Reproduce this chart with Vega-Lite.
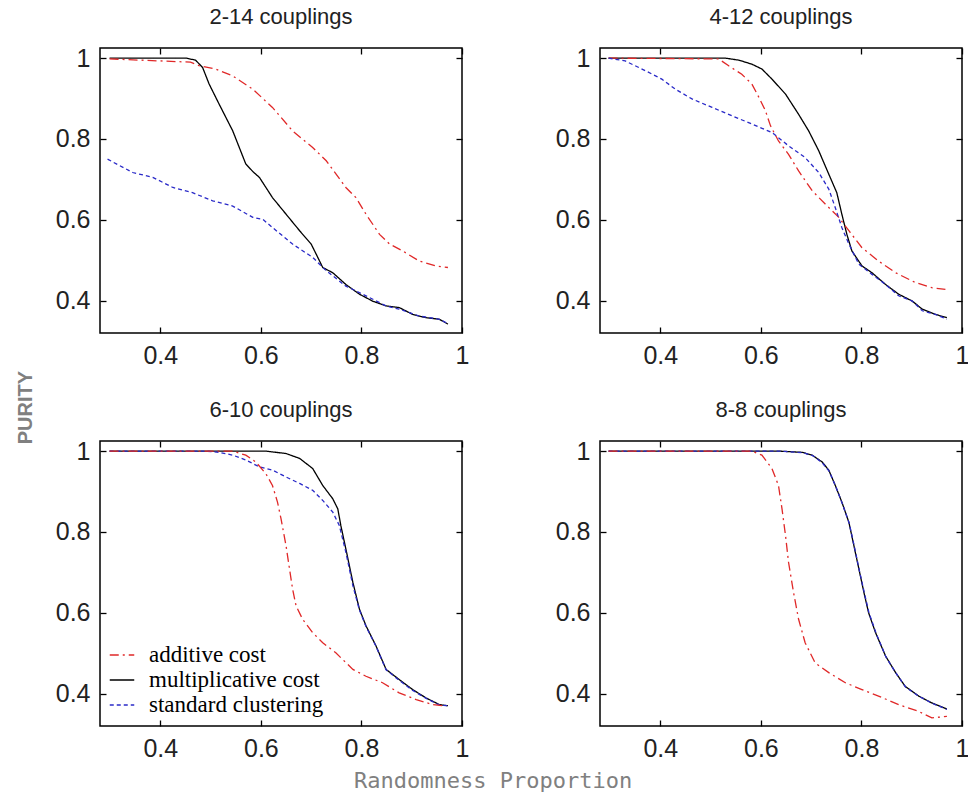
{
  "$schema": "https://vega.github.io/schema/vega-lite/v6.json",
  "background": "white",
  "padding": {"left": 16, "top": 5, "right": 4, "bottom": 2},
  "title": {"text": "Randomness Proportion", "orient": "bottom", "anchor": "middle", "font": "DejaVu Sans Mono", "fontSize": 22, "fontWeight": "normal", "color": "#808080", "offset": 9},
  "data": {"values": [
    {"panel":"2-14","series":"multiplicative cost","x":0.299,"y":1},
    {"panel":"2-14","series":"multiplicative cost","x":0.451,"y":1},
    {"panel":"2-14","series":"multiplicative cost","x":0.47,"y":0.995},
    {"panel":"2-14","series":"multiplicative cost","x":0.484,"y":0.977},
    {"panel":"2-14","series":"multiplicative cost","x":0.497,"y":0.936},
    {"panel":"2-14","series":"multiplicative cost","x":0.517,"y":0.886},
    {"panel":"2-14","series":"multiplicative cost","x":0.544,"y":0.82},
    {"panel":"2-14","series":"multiplicative cost","x":0.57,"y":0.738},
    {"panel":"2-14","series":"multiplicative cost","x":0.585,"y":0.718},
    {"panel":"2-14","series":"multiplicative cost","x":0.597,"y":0.705},
    {"panel":"2-14","series":"multiplicative cost","x":0.623,"y":0.655},
    {"panel":"2-14","series":"multiplicative cost","x":0.65,"y":0.614},
    {"panel":"2-14","series":"multiplicative cost","x":0.677,"y":0.573},
    {"panel":"2-14","series":"multiplicative cost","x":0.7,"y":0.54},
    {"panel":"2-14","series":"multiplicative cost","x":0.71,"y":0.515},
    {"panel":"2-14","series":"multiplicative cost","x":0.723,"y":0.482},
    {"panel":"2-14","series":"multiplicative cost","x":0.743,"y":0.469},
    {"panel":"2-14","series":"multiplicative cost","x":0.769,"y":0.44},
    {"panel":"2-14","series":"multiplicative cost","x":0.796,"y":0.416},
    {"panel":"2-14","series":"multiplicative cost","x":0.822,"y":0.399},
    {"panel":"2-14","series":"multiplicative cost","x":0.849,"y":0.387},
    {"panel":"2-14","series":"multiplicative cost","x":0.875,"y":0.383},
    {"panel":"2-14","series":"multiplicative cost","x":0.902,"y":0.366},
    {"panel":"2-14","series":"multiplicative cost","x":0.928,"y":0.358},
    {"panel":"2-14","series":"multiplicative cost","x":0.955,"y":0.354},
    {"panel":"2-14","series":"multiplicative cost","x":0.972,"y":0.342},
    {"panel":"2-14","series":"additive cost","x":0.299,"y":0.998},
    {"panel":"2-14","series":"additive cost","x":0.4,"y":0.993},
    {"panel":"2-14","series":"additive cost","x":0.46,"y":0.99},
    {"panel":"2-14","series":"additive cost","x":0.478,"y":0.981},
    {"panel":"2-14","series":"additive cost","x":0.51,"y":0.973},
    {"panel":"2-14","series":"additive cost","x":0.544,"y":0.956},
    {"panel":"2-14","series":"additive cost","x":0.584,"y":0.923},
    {"panel":"2-14","series":"additive cost","x":0.623,"y":0.878},
    {"panel":"2-14","series":"additive cost","x":0.663,"y":0.82},
    {"panel":"2-14","series":"additive cost","x":0.703,"y":0.779},
    {"panel":"2-14","series":"additive cost","x":0.73,"y":0.746},
    {"panel":"2-14","series":"additive cost","x":0.769,"y":0.68},
    {"panel":"2-14","series":"additive cost","x":0.789,"y":0.655},
    {"panel":"2-14","series":"additive cost","x":0.809,"y":0.614},
    {"panel":"2-14","series":"additive cost","x":0.836,"y":0.564},
    {"panel":"2-14","series":"additive cost","x":0.856,"y":0.54},
    {"panel":"2-14","series":"additive cost","x":0.882,"y":0.523},
    {"panel":"2-14","series":"additive cost","x":0.915,"y":0.498},
    {"panel":"2-14","series":"additive cost","x":0.948,"y":0.486},
    {"panel":"2-14","series":"additive cost","x":0.972,"y":0.482},
    {"panel":"2-14","series":"standard clustering","x":0.295,"y":0.75},
    {"panel":"2-14","series":"standard clustering","x":0.345,"y":0.717},
    {"panel":"2-14","series":"standard clustering","x":0.385,"y":0.705},
    {"panel":"2-14","series":"standard clustering","x":0.425,"y":0.68},
    {"panel":"2-14","series":"standard clustering","x":0.464,"y":0.667},
    {"panel":"2-14","series":"standard clustering","x":0.504,"y":0.647},
    {"panel":"2-14","series":"standard clustering","x":0.544,"y":0.634},
    {"panel":"2-14","series":"standard clustering","x":0.584,"y":0.606},
    {"panel":"2-14","series":"standard clustering","x":0.604,"y":0.601},
    {"panel":"2-14","series":"standard clustering","x":0.623,"y":0.581},
    {"panel":"2-14","series":"standard clustering","x":0.663,"y":0.54},
    {"panel":"2-14","series":"standard clustering","x":0.703,"y":0.507},
    {"panel":"2-14","series":"standard clustering","x":0.73,"y":0.474},
    {"panel":"2-14","series":"standard clustering","x":0.769,"y":0.436},
    {"panel":"2-14","series":"standard clustering","x":0.809,"y":0.412},
    {"panel":"2-14","series":"standard clustering","x":0.849,"y":0.387},
    {"panel":"2-14","series":"standard clustering","x":0.875,"y":0.379},
    {"panel":"2-14","series":"standard clustering","x":0.915,"y":0.362},
    {"panel":"2-14","series":"standard clustering","x":0.955,"y":0.354},
    {"panel":"2-14","series":"standard clustering","x":0.972,"y":0.343},

    {"panel":"4-12","series":"multiplicative cost","x":0.297,"y":1},
    {"panel":"4-12","series":"multiplicative cost","x":0.529,"y":1},
    {"panel":"4-12","series":"multiplicative cost","x":0.556,"y":0.995},
    {"panel":"4-12","series":"multiplicative cost","x":0.582,"y":0.985},
    {"panel":"4-12","series":"multiplicative cost","x":0.602,"y":0.973},
    {"panel":"4-12","series":"multiplicative cost","x":0.622,"y":0.948},
    {"panel":"4-12","series":"multiplicative cost","x":0.649,"y":0.911},
    {"panel":"4-12","series":"multiplicative cost","x":0.675,"y":0.861},
    {"panel":"4-12","series":"multiplicative cost","x":0.695,"y":0.82},
    {"panel":"4-12","series":"multiplicative cost","x":0.715,"y":0.771},
    {"panel":"4-12","series":"multiplicative cost","x":0.735,"y":0.713},
    {"panel":"4-12","series":"multiplicative cost","x":0.751,"y":0.667},
    {"panel":"4-12","series":"multiplicative cost","x":0.761,"y":0.614},
    {"panel":"4-12","series":"multiplicative cost","x":0.771,"y":0.564},
    {"panel":"4-12","series":"multiplicative cost","x":0.781,"y":0.523},
    {"panel":"4-12","series":"multiplicative cost","x":0.801,"y":0.486},
    {"panel":"4-12","series":"multiplicative cost","x":0.821,"y":0.469},
    {"panel":"4-12","series":"multiplicative cost","x":0.848,"y":0.44},
    {"panel":"4-12","series":"multiplicative cost","x":0.874,"y":0.416},
    {"panel":"4-12","series":"multiplicative cost","x":0.901,"y":0.399},
    {"panel":"4-12","series":"multiplicative cost","x":0.921,"y":0.379},
    {"panel":"4-12","series":"multiplicative cost","x":0.947,"y":0.366},
    {"panel":"4-12","series":"multiplicative cost","x":0.97,"y":0.358},
    {"panel":"4-12","series":"additive cost","x":0.297,"y":1},
    {"panel":"4-12","series":"additive cost","x":0.516,"y":0.998},
    {"panel":"4-12","series":"additive cost","x":0.536,"y":0.981},
    {"panel":"4-12","series":"additive cost","x":0.562,"y":0.96},
    {"panel":"4-12","series":"additive cost","x":0.582,"y":0.936},
    {"panel":"4-12","series":"additive cost","x":0.596,"y":0.903},
    {"panel":"4-12","series":"additive cost","x":0.609,"y":0.87},
    {"panel":"4-12","series":"additive cost","x":0.619,"y":0.833},
    {"panel":"4-12","series":"additive cost","x":0.635,"y":0.795},
    {"panel":"4-12","series":"additive cost","x":0.655,"y":0.762},
    {"panel":"4-12","series":"additive cost","x":0.675,"y":0.721},
    {"panel":"4-12","series":"additive cost","x":0.702,"y":0.672},
    {"panel":"4-12","series":"additive cost","x":0.728,"y":0.639},
    {"panel":"4-12","series":"additive cost","x":0.755,"y":0.606},
    {"panel":"4-12","series":"additive cost","x":0.775,"y":0.573},
    {"panel":"4-12","series":"additive cost","x":0.801,"y":0.531},
    {"panel":"4-12","series":"additive cost","x":0.834,"y":0.498},
    {"panel":"4-12","series":"additive cost","x":0.868,"y":0.469},
    {"panel":"4-12","series":"additive cost","x":0.907,"y":0.445},
    {"panel":"4-12","series":"additive cost","x":0.94,"y":0.432},
    {"panel":"4-12","series":"additive cost","x":0.967,"y":0.428},
    {"panel":"4-12","series":"standard clustering","x":0.297,"y":1},
    {"panel":"4-12","series":"standard clustering","x":0.33,"y":0.993},
    {"panel":"4-12","series":"standard clustering","x":0.37,"y":0.969},
    {"panel":"4-12","series":"standard clustering","x":0.403,"y":0.948},
    {"panel":"4-12","series":"standard clustering","x":0.43,"y":0.923},
    {"panel":"4-12","series":"standard clustering","x":0.463,"y":0.899},
    {"panel":"4-12","series":"standard clustering","x":0.503,"y":0.878},
    {"panel":"4-12","series":"standard clustering","x":0.543,"y":0.857},
    {"panel":"4-12","series":"standard clustering","x":0.582,"y":0.837},
    {"panel":"4-12","series":"standard clustering","x":0.622,"y":0.816},
    {"panel":"4-12","series":"standard clustering","x":0.655,"y":0.783},
    {"panel":"4-12","series":"standard clustering","x":0.688,"y":0.754},
    {"panel":"4-12","series":"standard clustering","x":0.715,"y":0.717},
    {"panel":"4-12","series":"standard clustering","x":0.735,"y":0.676},
    {"panel":"4-12","series":"standard clustering","x":0.748,"y":0.63},
    {"panel":"4-12","series":"standard clustering","x":0.761,"y":0.581},
    {"panel":"4-12","series":"standard clustering","x":0.775,"y":0.54},
    {"panel":"4-12","series":"standard clustering","x":0.795,"y":0.49},
    {"panel":"4-12","series":"standard clustering","x":0.821,"y":0.465},
    {"panel":"4-12","series":"standard clustering","x":0.848,"y":0.44},
    {"panel":"4-12","series":"standard clustering","x":0.874,"y":0.412},
    {"panel":"4-12","series":"standard clustering","x":0.901,"y":0.399},
    {"panel":"4-12","series":"standard clustering","x":0.921,"y":0.375},
    {"panel":"4-12","series":"standard clustering","x":0.947,"y":0.366},
    {"panel":"4-12","series":"standard clustering","x":0.97,"y":0.354},

    {"panel":"6-10","series":"multiplicative cost","x":0.299,"y":1},
    {"panel":"6-10","series":"multiplicative cost","x":0.61,"y":1},
    {"panel":"6-10","series":"multiplicative cost","x":0.65,"y":0.994},
    {"panel":"6-10","series":"multiplicative cost","x":0.677,"y":0.982},
    {"panel":"6-10","series":"multiplicative cost","x":0.703,"y":0.957},
    {"panel":"6-10","series":"multiplicative cost","x":0.723,"y":0.915},
    {"panel":"6-10","series":"multiplicative cost","x":0.743,"y":0.882},
    {"panel":"6-10","series":"multiplicative cost","x":0.753,"y":0.857},
    {"panel":"6-10","series":"multiplicative cost","x":0.759,"y":0.816},
    {"panel":"6-10","series":"multiplicative cost","x":0.769,"y":0.758},
    {"panel":"6-10","series":"multiplicative cost","x":0.783,"y":0.675},
    {"panel":"6-10","series":"multiplicative cost","x":0.796,"y":0.609},
    {"panel":"6-10","series":"multiplicative cost","x":0.809,"y":0.568},
    {"panel":"6-10","series":"multiplicative cost","x":0.829,"y":0.518},
    {"panel":"6-10","series":"multiplicative cost","x":0.849,"y":0.46},
    {"panel":"6-10","series":"multiplicative cost","x":0.875,"y":0.435},
    {"panel":"6-10","series":"multiplicative cost","x":0.902,"y":0.41},
    {"panel":"6-10","series":"multiplicative cost","x":0.929,"y":0.389},
    {"panel":"6-10","series":"multiplicative cost","x":0.955,"y":0.373},
    {"panel":"6-10","series":"multiplicative cost","x":0.972,"y":0.37},
    {"panel":"6-10","series":"standard clustering","x":0.299,"y":1},
    {"panel":"6-10","series":"standard clustering","x":0.491,"y":1},
    {"panel":"6-10","series":"standard clustering","x":0.517,"y":0.997},
    {"panel":"6-10","series":"standard clustering","x":0.544,"y":0.99},
    {"panel":"6-10","series":"standard clustering","x":0.57,"y":0.978},
    {"panel":"6-10","series":"standard clustering","x":0.597,"y":0.961},
    {"panel":"6-10","series":"standard clustering","x":0.623,"y":0.953},
    {"panel":"6-10","series":"standard clustering","x":0.65,"y":0.936},
    {"panel":"6-10","series":"standard clustering","x":0.677,"y":0.92},
    {"panel":"6-10","series":"standard clustering","x":0.703,"y":0.903},
    {"panel":"6-10","series":"standard clustering","x":0.723,"y":0.878},
    {"panel":"6-10","series":"standard clustering","x":0.743,"y":0.849},
    {"panel":"6-10","series":"standard clustering","x":0.756,"y":0.816},
    {"panel":"6-10","series":"standard clustering","x":0.769,"y":0.75},
    {"panel":"6-10","series":"standard clustering","x":0.783,"y":0.667},
    {"panel":"6-10","series":"standard clustering","x":0.796,"y":0.607},
    {"panel":"6-10","series":"standard clustering","x":0.809,"y":0.566},
    {"panel":"6-10","series":"standard clustering","x":0.829,"y":0.517},
    {"panel":"6-10","series":"standard clustering","x":0.849,"y":0.459},
    {"panel":"6-10","series":"standard clustering","x":0.875,"y":0.433},
    {"panel":"6-10","series":"standard clustering","x":0.902,"y":0.408},
    {"panel":"6-10","series":"standard clustering","x":0.929,"y":0.388},
    {"panel":"6-10","series":"standard clustering","x":0.955,"y":0.372},
    {"panel":"6-10","series":"standard clustering","x":0.972,"y":0.37},
    {"panel":"6-10","series":"additive cost","x":0.299,"y":1},
    {"panel":"6-10","series":"additive cost","x":0.544,"y":1},
    {"panel":"6-10","series":"additive cost","x":0.57,"y":0.99},
    {"panel":"6-10","series":"additive cost","x":0.59,"y":0.973},
    {"panel":"6-10","series":"additive cost","x":0.61,"y":0.944},
    {"panel":"6-10","series":"additive cost","x":0.623,"y":0.915},
    {"panel":"6-10","series":"additive cost","x":0.633,"y":0.874},
    {"panel":"6-10","series":"additive cost","x":0.64,"y":0.833},
    {"panel":"6-10","series":"additive cost","x":0.65,"y":0.766},
    {"panel":"6-10","series":"additive cost","x":0.657,"y":0.708},
    {"panel":"6-10","series":"additive cost","x":0.663,"y":0.659},
    {"panel":"6-10","series":"additive cost","x":0.67,"y":0.617},
    {"panel":"6-10","series":"additive cost","x":0.683,"y":0.584},
    {"panel":"6-10","series":"additive cost","x":0.703,"y":0.551},
    {"panel":"6-10","series":"additive cost","x":0.723,"y":0.526},
    {"panel":"6-10","series":"additive cost","x":0.749,"y":0.501},
    {"panel":"6-10","series":"additive cost","x":0.783,"y":0.46},
    {"panel":"6-10","series":"additive cost","x":0.809,"y":0.443},
    {"panel":"6-10","series":"additive cost","x":0.842,"y":0.427},
    {"panel":"6-10","series":"additive cost","x":0.875,"y":0.402},
    {"panel":"6-10","series":"additive cost","x":0.909,"y":0.385},
    {"panel":"6-10","series":"additive cost","x":0.942,"y":0.373},
    {"panel":"6-10","series":"additive cost","x":0.968,"y":0.369},

    {"panel":"8-8","series":"multiplicative cost","x":0.297,"y":1},
    {"panel":"8-8","series":"multiplicative cost","x":0.635,"y":1},
    {"panel":"8-8","series":"multiplicative cost","x":0.682,"y":0.997},
    {"panel":"8-8","series":"multiplicative cost","x":0.702,"y":0.99},
    {"panel":"8-8","series":"multiplicative cost","x":0.722,"y":0.973},
    {"panel":"8-8","series":"multiplicative cost","x":0.735,"y":0.953},
    {"panel":"8-8","series":"multiplicative cost","x":0.748,"y":0.915},
    {"panel":"8-8","series":"multiplicative cost","x":0.761,"y":0.874},
    {"panel":"8-8","series":"multiplicative cost","x":0.775,"y":0.824},
    {"panel":"8-8","series":"multiplicative cost","x":0.785,"y":0.766},
    {"panel":"8-8","series":"multiplicative cost","x":0.795,"y":0.708},
    {"panel":"8-8","series":"multiplicative cost","x":0.805,"y":0.65},
    {"panel":"8-8","series":"multiplicative cost","x":0.814,"y":0.601},
    {"panel":"8-8","series":"multiplicative cost","x":0.828,"y":0.551},
    {"panel":"8-8","series":"multiplicative cost","x":0.848,"y":0.493},
    {"panel":"8-8","series":"multiplicative cost","x":0.868,"y":0.452},
    {"panel":"8-8","series":"multiplicative cost","x":0.887,"y":0.418},
    {"panel":"8-8","series":"multiplicative cost","x":0.914,"y":0.394},
    {"panel":"8-8","series":"multiplicative cost","x":0.94,"y":0.377},
    {"panel":"8-8","series":"multiplicative cost","x":0.97,"y":0.362},
    {"panel":"8-8","series":"standard clustering","x":0.297,"y":1},
    {"panel":"8-8","series":"standard clustering","x":0.64,"y":1},
    {"panel":"8-8","series":"standard clustering","x":0.683,"y":0.996},
    {"panel":"8-8","series":"standard clustering","x":0.703,"y":0.989},
    {"panel":"8-8","series":"standard clustering","x":0.722,"y":0.971},
    {"panel":"8-8","series":"standard clustering","x":0.736,"y":0.95},
    {"panel":"8-8","series":"standard clustering","x":0.749,"y":0.912},
    {"panel":"8-8","series":"standard clustering","x":0.762,"y":0.87},
    {"panel":"8-8","series":"standard clustering","x":0.776,"y":0.82},
    {"panel":"8-8","series":"standard clustering","x":0.786,"y":0.763},
    {"panel":"8-8","series":"standard clustering","x":0.796,"y":0.704},
    {"panel":"8-8","series":"standard clustering","x":0.806,"y":0.648},
    {"panel":"8-8","series":"standard clustering","x":0.815,"y":0.6},
    {"panel":"8-8","series":"standard clustering","x":0.829,"y":0.55},
    {"panel":"8-8","series":"standard clustering","x":0.849,"y":0.49},
    {"panel":"8-8","series":"standard clustering","x":0.869,"y":0.45},
    {"panel":"8-8","series":"standard clustering","x":0.888,"y":0.416},
    {"panel":"8-8","series":"standard clustering","x":0.915,"y":0.393},
    {"panel":"8-8","series":"standard clustering","x":0.941,"y":0.376},
    {"panel":"8-8","series":"standard clustering","x":0.97,"y":0.361},
    {"panel":"8-8","series":"additive cost","x":0.297,"y":1},
    {"panel":"8-8","series":"additive cost","x":0.582,"y":1},
    {"panel":"8-8","series":"additive cost","x":0.602,"y":0.99},
    {"panel":"8-8","series":"additive cost","x":0.622,"y":0.957},
    {"panel":"8-8","series":"additive cost","x":0.635,"y":0.915},
    {"panel":"8-8","series":"additive cost","x":0.642,"y":0.857},
    {"panel":"8-8","series":"additive cost","x":0.649,"y":0.791},
    {"panel":"8-8","series":"additive cost","x":0.655,"y":0.725},
    {"panel":"8-8","series":"additive cost","x":0.665,"y":0.65},
    {"panel":"8-8","series":"additive cost","x":0.675,"y":0.584},
    {"panel":"8-8","series":"additive cost","x":0.688,"y":0.526},
    {"panel":"8-8","series":"additive cost","x":0.708,"y":0.476},
    {"panel":"8-8","series":"additive cost","x":0.735,"y":0.452},
    {"panel":"8-8","series":"additive cost","x":0.768,"y":0.427},
    {"panel":"8-8","series":"additive cost","x":0.801,"y":0.41},
    {"panel":"8-8","series":"additive cost","x":0.834,"y":0.394},
    {"panel":"8-8","series":"additive cost","x":0.874,"y":0.373},
    {"panel":"8-8","series":"additive cost","x":0.914,"y":0.356},
    {"panel":"8-8","series":"additive cost","x":0.94,"y":0.34},
    {"panel":"8-8","series":"additive cost","x":0.97,"y":0.344}
  ]},
  "hconcat": [
    {
      "title": {"text": "PURITY", "orient": "left", "anchor": "middle", "font": "Liberation Sans", "fontSize": 20, "fontWeight": "bold", "color": "#808080", "offset": 18, "dx": -24},
      "spacing": 29,
      "resolve": {"legend": {"color": "independent", "strokeDash": "independent"}},
      "vconcat": [
        {
          "spacing": 84,
          "resolve": {"legend": {"color": "independent", "strokeDash": "independent"}},
          "hconcat": [
            {
              "title": {"text": "2-14 couplings", "font": "Liberation Sans", "fontSize": 22, "fontWeight": "normal", "color": "#222222"},
              "width": 362, "height": 285,
              "transform": [{"filter": "datum.panel === '2-14'"}],
              "layer": [
                {"mark": {"type": "line", "strokeWidth": 1.3},
                 "encoding": {
                   "x": {"field": "x", "type": "quantitative", "scale": {"domain": [0.28, 1.0], "nice": false, "zero": false}, "axis": {"orient": "bottom", "values": [0.4, 0.6, 0.8, 1]}},
                   "y": {"field": "y", "type": "quantitative", "scale": {"domain": [0.32, 1.025], "nice": false, "zero": false}, "axis": {"orient": "left", "values": [0.4, 0.6, 0.8, 1]}},
                   "color": {"field": "series", "type": "nominal", "scale": {"domain": ["additive cost", "multiplicative cost", "standard clustering"], "range": ["#e02828", "#000000", "#2a2ac8"]}, "legend": null},
                   "strokeDash": {"field": "series", "type": "nominal", "scale": {"domain": ["additive cost", "multiplicative cost", "standard clustering"], "range": [[9, 4, 2, 4], [1, 0], [4, 3]]}, "legend": null}
                 }},
                {"mark": {"type": "line", "opacity": 0},
                 "encoding": {
                   "x": {"field": "x", "type": "quantitative", "axis": {"orient": "top", "labels": false, "values": [0.4, 0.6, 0.8, 1]}},
                   "y": {"field": "y", "type": "quantitative", "axis": {"orient": "right", "labels": false, "values": [0.4, 0.6, 0.8, 1]}},
                   "detail": {"field": "series"}
                 }}
              ]
            },
            {
              "title": {"text": "4-12 couplings", "font": "Liberation Sans", "fontSize": 22, "fontWeight": "normal", "color": "#222222"},
              "width": 362, "height": 285,
              "transform": [{"filter": "datum.panel === '4-12'"}],
              "layer": [
                {"mark": {"type": "line", "strokeWidth": 1.3},
                 "encoding": {
                   "x": {"field": "x", "type": "quantitative", "scale": {"domain": [0.28, 1.0], "nice": false, "zero": false}, "axis": {"orient": "bottom", "values": [0.4, 0.6, 0.8, 1]}},
                   "y": {"field": "y", "type": "quantitative", "scale": {"domain": [0.32, 1.025], "nice": false, "zero": false}, "axis": {"orient": "left", "values": [0.4, 0.6, 0.8, 1]}},
                   "color": {"field": "series", "type": "nominal", "scale": {"domain": ["additive cost", "multiplicative cost", "standard clustering"], "range": ["#e02828", "#000000", "#2a2ac8"]}, "legend": null},
                   "strokeDash": {"field": "series", "type": "nominal", "scale": {"domain": ["additive cost", "multiplicative cost", "standard clustering"], "range": [[9, 4, 2, 4], [1, 0], [4, 3]]}, "legend": null}
                 }},
                {"mark": {"type": "line", "opacity": 0},
                 "encoding": {
                   "x": {"field": "x", "type": "quantitative", "axis": {"orient": "top", "labels": false, "values": [0.4, 0.6, 0.8, 1]}},
                   "y": {"field": "y", "type": "quantitative", "axis": {"orient": "right", "labels": false, "values": [0.4, 0.6, 0.8, 1]}},
                   "detail": {"field": "series"}
                 }}
              ]
            }
          ]
        },
        {
          "spacing": 84,
          "resolve": {"legend": {"color": "independent", "strokeDash": "independent"}},
          "hconcat": [
            {
              "title": {"text": "6-10 couplings", "font": "Liberation Sans", "fontSize": 22, "fontWeight": "normal", "color": "#222222"},
              "width": 362, "height": 285,
              "transform": [{"filter": "datum.panel === '6-10'"}],
              "layer": [
                {"mark": {"type": "line", "strokeWidth": 1.3},
                 "encoding": {
                   "x": {"field": "x", "type": "quantitative", "scale": {"domain": [0.28, 1.0], "nice": false, "zero": false}, "axis": {"orient": "bottom", "values": [0.4, 0.6, 0.8, 1]}},
                   "y": {"field": "y", "type": "quantitative", "scale": {"domain": [0.32, 1.025], "nice": false, "zero": false}, "axis": {"orient": "left", "values": [0.4, 0.6, 0.8, 1]}},
                   "color": {"field": "series", "type": "nominal", "scale": {"domain": ["additive cost", "multiplicative cost", "standard clustering"], "range": ["#e02828", "#000000", "#2a2ac8"]}, "legend": {"orient": "bottom-left", "offset": 9}},
                   "strokeDash": {"field": "series", "type": "nominal", "scale": {"domain": ["additive cost", "multiplicative cost", "standard clustering"], "range": [[9, 4, 2, 4], [1, 0], [4, 3]]}, "legend": {"orient": "bottom-left", "offset": 9}}
                 }},
                {"mark": {"type": "line", "opacity": 0},
                 "encoding": {
                   "x": {"field": "x", "type": "quantitative", "axis": {"orient": "top", "labels": false, "values": [0.4, 0.6, 0.8, 1]}},
                   "y": {"field": "y", "type": "quantitative", "axis": {"orient": "right", "labels": false, "values": [0.4, 0.6, 0.8, 1]}},
                   "detail": {"field": "series"}
                 }}
              ]
            },
            {
              "title": {"text": "8-8 couplings", "font": "Liberation Sans", "fontSize": 22, "fontWeight": "normal", "color": "#222222"},
              "width": 362, "height": 285,
              "transform": [{"filter": "datum.panel === '8-8'"}],
              "layer": [
                {"mark": {"type": "line", "strokeWidth": 1.3},
                 "encoding": {
                   "x": {"field": "x", "type": "quantitative", "scale": {"domain": [0.28, 1.0], "nice": false, "zero": false}, "axis": {"orient": "bottom", "values": [0.4, 0.6, 0.8, 1]}},
                   "y": {"field": "y", "type": "quantitative", "scale": {"domain": [0.32, 1.025], "nice": false, "zero": false}, "axis": {"orient": "left", "values": [0.4, 0.6, 0.8, 1]}},
                   "color": {"field": "series", "type": "nominal", "scale": {"domain": ["additive cost", "multiplicative cost", "standard clustering"], "range": ["#e02828", "#000000", "#2a2ac8"]}, "legend": null},
                   "strokeDash": {"field": "series", "type": "nominal", "scale": {"domain": ["additive cost", "multiplicative cost", "standard clustering"], "range": [[9, 4, 2, 4], [1, 0], [4, 3]]}, "legend": null}
                 }},
                {"mark": {"type": "line", "opacity": 0},
                 "encoding": {
                   "x": {"field": "x", "type": "quantitative", "axis": {"orient": "top", "labels": false, "values": [0.4, 0.6, 0.8, 1]}},
                   "y": {"field": "y", "type": "quantitative", "axis": {"orient": "right", "labels": false, "values": [0.4, 0.6, 0.8, 1]}},
                   "detail": {"field": "series"}
                 }}
              ]
            }
          ]
        }
      ]
    }
  ],
  "resolve": {"legend": {"color": "independent", "strokeDash": "independent"}},
  "config": {
    "view": {"stroke": "#000000", "strokeWidth": 1.5},
    "title": {"offset": 17, "anchor": "middle"},
    "axis": {
      "domain": false, "grid": false, "title": null,
      "offset": -6, "tickSize": 6, "tickColor": "#000000", "tickWidth": 1.3,
      "labelFont": "Liberation Sans", "labelFontSize": 25, "labelColor": "#222222",
      "labelPadding": 10, "labelFlush": false, "labelOverlap": false, "format": "~g"
    },
    "legend": {
      "title": null, "symbolType": "stroke", "symbolSize": 600, "symbolStrokeWidth": 1.4,
      "labelFont": "Liberation Serif", "labelFontSize": 23, "labelColor": "#000000",
      "labelOffset": 14, "rowPadding": 0, "padding": 0, "labelLimit": 400
    }
  }
}
